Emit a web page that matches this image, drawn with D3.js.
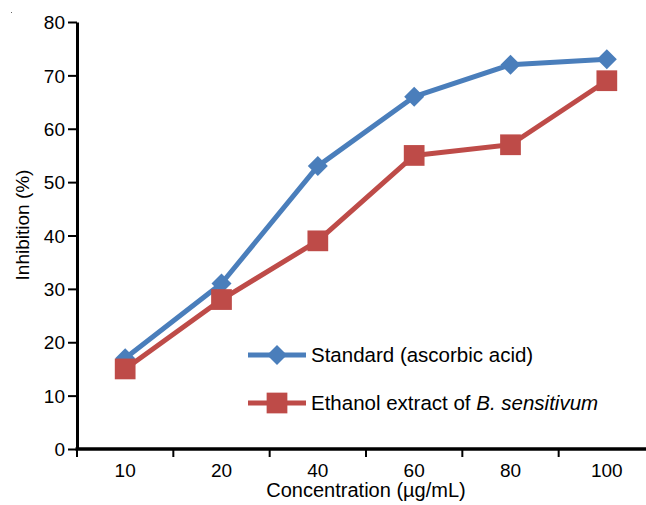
<!DOCTYPE html>
<html>
<head>
<meta charset="utf-8">
<script src="https://cdn.jsdelivr.net/npm/d3@7"></script>
<style>
  body { margin: 0; background: #fff; }
  text { font-family: "Liberation Sans", Arial, sans-serif; fill: #000; }
</style>
</head>
<body>
<div id="chart"></div>
<script>
// data
const concentrations = ["10", "20", "40", "60", "80", "100"];
const standardValues = [17, 31, 53, 66, 72, 73];
const extractValues = [15, 28, 39, 55, 57, 69];
const yTicks = [0, 10, 20, 30, 40, 50, 60, 70, 80];

const width = 646, height = 505;
const plot = { left: 77, right: 655, top: 22, bottom: 449 };

const svg = d3.select("#chart")
    .append("svg")
    .attr("width", width)
    .attr("height", height);

// stray dot in the corner of the original
svg.append("rect")
    .attr("x", 11).attr("y", 12).attr("width", 1).attr("height", 1)
    .attr("fill", "#666");

// scales
const x = d3.scaleBand()
    .domain(concentrations)
    .range([plot.left, plot.right]);

const y = d3.scaleLinear()
    .domain([0, 80])
    .range([plot.bottom, plot.top]);

// Y axis
const yAxis = svg.append("g")
    .attr("transform", `translate(${plot.left},0)`)
    .call(d3.axisLeft(y).tickValues(yTicks).tickSize(9).tickPadding(3).tickSizeOuter(0));
yAxis.select(".domain").attr("stroke-width", 3);
yAxis.selectAll(".tick line").attr("stroke-width", 2);
yAxis.selectAll(".tick text").style("font-size", "19px").attr("dy", "0.35em");

// X axis (ticks sit between categories)
const xAxis = svg.append("g")
    .attr("transform", `translate(0,${plot.bottom})`);
xAxis.append("line")
    .attr("x1", plot.left - 1.5).attr("x2", width)
    .attr("stroke", "#000").attr("stroke-width", 3.5);
xAxis.selectAll(".xtick")
    .data(concentrations)
    .join("line")
    .attr("x1", d => x(d)).attr("x2", d => x(d))
    .attr("y1", 0).attr("y2", 8)
    .attr("stroke", "#000").attr("stroke-width", 2);
xAxis.selectAll(".xlabel")
    .data(concentrations)
    .join("text")
    .attr("x", d => x(d) + x.bandwidth() / 2)
    .attr("y", 28)
    .attr("text-anchor", "middle")
    .style("font-size", "19px")
    .text(d => d);

// axis titles
svg.append("text")
    .attr("transform", `translate(29,225) rotate(-90)`)
    .attr("text-anchor", "middle")
    .style("font-size", "19px")
    .text("Inhibition (%)");

svg.append("text")
    .attr("x", 366)
    .attr("y", 497)
    .attr("text-anchor", "middle")
    .style("font-size", "20px")
    .text("Concentration (µg/mL)");

const cx = d => x(d) + x.bandwidth() / 2;
const line = d3.line()
    .x(d => cx(d.c))
    .y(d => y(d.v));

const diamond = d3.symbol().type(d3.symbolSquare).size(200);
const square = d3.symbol().type(d3.symbolSquare).size(430);

const series = [
    { color: "#4a7ebb", values: standardValues, marker: "diamond" },
    { color: "#be4b48", values: extractValues, marker: "square" }
];

series.forEach(s => {
    const pts = concentrations.map((c, i) => ({ c: c, v: s.values[i] }));
    svg.append("path")
        .datum(pts)
        .attr("d", line)
        .attr("fill", "none")
        .attr("stroke", s.color)
        .attr("stroke-width", 5)
        .attr("stroke-linejoin", "round");
    svg.append("g")
        .selectAll("path")
        .data(pts)
        .join("path")
        .attr("d", s.marker === "diamond" ? diamond : square)
        .attr("transform", d => `translate(${cx(d.c)},${y(d.v)})` + (s.marker === "diamond" ? " rotate(45)" : ""))
        .attr("fill", s.color);
});

// legend
const legend = svg.append("g");
const legendItems = [
    { color: "#4a7ebb", marker: "diamond", y: 355, parts: [{ t: "Standard (ascorbic acid)", italic: false }] },
    { color: "#be4b48", marker: "square", y: 403, parts: [{ t: "Ethanol extract of ", italic: false }, { t: "B. sensitivum", italic: true }] }
];
legendItems.forEach(item => {
    legend.append("line")
        .attr("x1", 248).attr("x2", 306)
        .attr("y1", item.y).attr("y2", item.y)
        .attr("stroke", item.color).attr("stroke-width", 5);
    legend.append("path")
        .attr("d", item.marker === "diamond" ? diamond : square)
        .attr("transform", `translate(277,${item.y})` + (item.marker === "diamond" ? " rotate(45)" : ""))
        .attr("fill", item.color);
    const txt = legend.append("text")
        .attr("x", 311)
        .attr("y", item.y + 7)
        .style("font-size", "20.5px");
    item.parts.forEach(p => {
        txt.append("tspan")
            .style("font-style", p.italic ? "italic" : "normal")
            .text(p.t);
    });
});
</script>
</body>
</html>
